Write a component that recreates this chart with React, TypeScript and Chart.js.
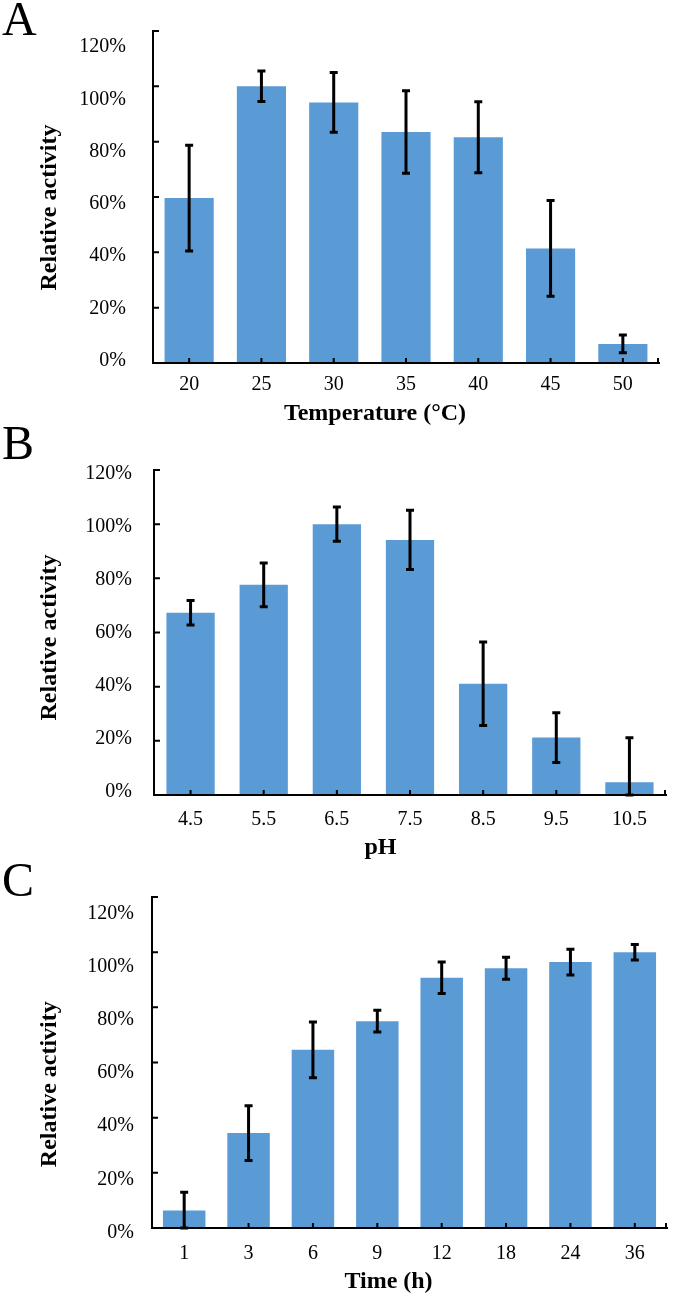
import React, { useEffect, useRef } from "react";
import { Chart, registerables } from "chart.js";

Chart.register(...registerables);

// ---------- data ----------
const tempCategories = ["20", "25", "30", "35", "40", "45", "50"];
const tempActivity = [59.6, 100, 94.2, 83.5, 81.6, 41.4, 6.9];
const tempError = [19.1, 5.5, 10.8, 14.9, 12.8, 17.3, 3.2];

const phCategories = ["4.5", "5.5", "6.5", "7.5", "8.5", "9.5", "10.5"];
const phActivity = [67.3, 77.6, 100, 94.2, 41.1, 21.2, 4.7];
const phError = [4.5, 8.1, 6.3, 10.9, 15.4, 9.2, 16.4];

const timeCategories = ["1", "3", "6", "9", "12", "18", "24", "36"];
const timeActivity = [6.3, 34.4, 64.6, 75.0, 90.7, 94.2, 96.4, 100];
const timeError = [6.7, 9.9, 10.1, 3.9, 5.7, 4.0, 4.7, 2.8];

const percentTicks = [0, 20, 40, 60, 80, 100, 120];

const yTitle = "Relative activity";
// ---------------------------

const SERIF = '"Liberation Serif", "Times New Roman", serif';
const BAR_COLOR = "#5B9BD5";
const W = 688;

type Panel = {
  letter: string;
  xTitle: string;
  categories: string[];
  values: number[];
  errors: number[];
  top: number;
  height: number;
  area: { left: number; right: number; top: number; bottom: number };
  labelMin: number;
  labelMax: number;
  labelOffset: number;
  labelPadding: number;
  xLabelPadding: number;
  barPct: number;
  yTitlePos: [number, number];
  xTitlePos: [number, number];
  letterPos: [number, number];
};

const panels: Panel[] = [
  {
    letter: "A",
    xTitle: "Temperature (°C)",
    categories: tempCategories,
    values: tempActivity,
    errors: tempError,
    top: 0,
    height: 426,
    area: { left: 153, right: 659, top: 27, bottom: 363 },
    labelMin: -0.87,
    labelMax: 126.16,
    labelOffset: 0,
    labelPadding: 19,
    xLabelPadding: 2,
    barPct: 0.68,
    yTitlePos: [56, 207.5],
    xTitlePos: [375, 420],
    letterPos: [2, 35],
  },
  {
    letter: "B",
    xTitle: "pH",
    categories: phCategories,
    values: phActivity,
    errors: phError,
    top: 426,
    height: 434,
    area: { left: 154, right: 666, top: 44, bottom: 369 },
    labelMin: -1.32,
    labelMax: 121.24,
    labelOffset: 0,
    labelPadding: 14,
    xLabelPadding: 5,
    barPct: 0.66,
    yTitlePos: [56, 211.5],
    xTitlePos: [380.5, 428],
    letterPos: [2, 33.3],
  },
  {
    letter: "C",
    xTitle: "Time (h)",
    categories: timeCategories,
    values: timeActivity,
    errors: timeError,
    top: 860,
    height: 436,
    area: { left: 152, right: 667, top: 37, bottom: 368 },
    labelMin: -1.24,
    labelMax: 123.12,
    labelOffset: 8,
    labelPadding: 10,
    xLabelPadding: 6,
    barPct: 0.66,
    yTitlePos: [56, 224.2],
    xTitlePos: [388.5, 428.3],
    letterPos: [2, 36],
  },
];

function makeDecor(p: Panel) {
  return {
    id: "decor" + p.letter,
    afterDraw(chart: any) {
      const ctx = chart.ctx as CanvasRenderingContext2D;
      const ys = chart.scales.y;
      const xs = chart.scales.x;
      const { left, bottom } = chart.chartArea;
      ctx.save();
      ctx.strokeStyle = "#000";
      ctx.fillStyle = "#000";
      // inner tick marks
      ctx.lineWidth = 2;
      ctx.beginPath();
      percentTicks.forEach((v) => {
        const py = ys.getPixelForValue(v);
        ctx.moveTo(left, py);
        ctx.lineTo(left + 6, py);
      });
      xs.ticks.forEach((_t: any, i: number) => {
        const px = xs.getPixelForTick(i);
        ctx.moveTo(px, bottom);
        ctx.lineTo(px, bottom - 5);
      });
      ctx.moveTo(xs.right - 1, bottom);
      ctx.lineTo(xs.right - 1, bottom - 5);
      ctx.stroke();

      // error bars
      const meta = chart.getDatasetMeta(0);
      ctx.lineWidth = 3;
      ctx.beginPath();
      meta.data.forEach((bar: any, i: number) => {
        const v = p.values[i];
        const e = p.errors[i];
        const yTop = ys.getPixelForValue(v + e);
        const yBot = ys.getPixelForValue(Math.max(0, v - e));
        const x = bar.x;
        ctx.moveTo(x, yTop);
        ctx.lineTo(x, yBot);
        ctx.moveTo(x - 4, yTop);
        ctx.lineTo(x + 4, yTop);
        ctx.moveTo(x - 4, yBot);
        ctx.lineTo(x + 4, yBot);
      });
      ctx.stroke();

      // panel letter
      ctx.textAlign = "left";
      ctx.textBaseline = "alphabetic";
      ctx.font = `48px ${SERIF}`;
      ctx.fillText(p.letter, p.letterPos[0], p.letterPos[1]);

      // axis titles
      ctx.font = `bold 24px ${SERIF}`;
      ctx.textAlign = "center";
      ctx.fillText(p.xTitle, p.xTitlePos[0], p.xTitlePos[1]);
      ctx.save();
      ctx.translate(p.yTitlePos[0], p.yTitlePos[1]);
      ctx.rotate(-Math.PI / 2);
      ctx.fillText(yTitle, 0, 0);
      ctx.restore();

      ctx.restore();
    },
  };
}

function PanelChart({ p }: { p: Panel }) {
  const ref = useRef<HTMLCanvasElement | null>(null);
  useEffect(() => {
    if (!ref.current) return;
    const chart = new Chart(ref.current, {
      type: "bar",
      data: {
        labels: p.categories,
        datasets: [
          {
            data: p.values,
            backgroundColor: BAR_COLOR,
            borderWidth: 0,
            barPercentage: p.barPct,
            categoryPercentage: 1,
            yAxisID: "y",
          },
        ],
      },
      options: {
        responsive: false,
        animation: false,
        events: [],
        layout: {
          padding: { left: 0, top: p.area.top, right: W - p.area.right, bottom: 0 },
        },
        plugins: { legend: { display: false }, tooltip: { enabled: false } },
        scales: {
          x: {
            type: "category",
            offset: true,
            grid: { display: false },
            border: { display: true, color: "#000", width: 2, z: 1 },
            ticks: {
              color: "#000",
              font: { family: SERIF, size: 20 },
              padding: p.xLabelPadding,
              maxRotation: 0,
              autoSkip: false,
            },
            afterFit: (s: any) => {
              s.height = p.height - p.area.bottom;
            },
          },
          y: { display: false, min: 0, max: 120 },
          yl: {
            type: "linear",
            position: "left",
            min: p.labelMin,
            max: p.labelMax,
            grid: { display: false },
            border: { display: true, color: "#000", width: 2, z: 1 },
            ticks: {
              color: "#000",
              font: { family: SERIF, size: 20 },
              padding: p.labelPadding,
              labelOffset: p.labelOffset,
              autoSkip: false,
              callback: (v: any) => `${Math.round(Number(v))}%`,
            },
            afterBuildTicks: (s: any) => {
              s.ticks = percentTicks.map((v) => ({ value: v }));
            },
            afterFit: (s: any) => {
              s.width = p.area.left;
            },
          },
        },
      } as any,
      plugins: [makeDecor(p)],
    });
    return () => chart.destroy();
  }, [p]);
  return (
    <canvas
      ref={ref}
      width={W}
      height={p.height}
      style={{ position: "absolute", left: 0, top: p.top, width: W, height: p.height, display: "block" }}
    />
  );
}

export default function App() {
  return (
    <div style={{ position: "absolute", left: 0, top: 0, width: W, height: 1296, background: "#fff" }}>
      {panels.map((p) => (
        <PanelChart key={p.letter} p={p} />
      ))}
    </div>
  );
}
